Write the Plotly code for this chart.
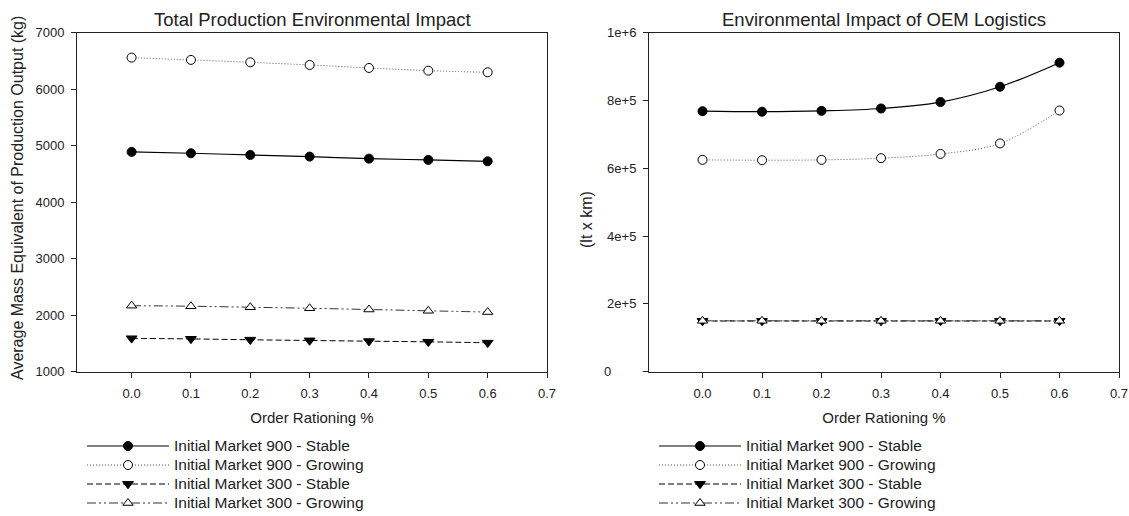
import plotly.graph_objects as go

# ---------------- data ----------------
order_rationing = [0.0, 0.1, 0.2, 0.3, 0.4, 0.5, 0.6]

series_names = [
    "Initial Market 900 - Stable",
    "Initial Market 900 - Growing",
    "Initial Market 300 - Stable",
    "Initial Market 300 - Growing",
]

# Left panel: Total Production Environmental Impact (kg)
prod_900_stable = [4888, 4864, 4834, 4805, 4769, 4746, 4722]
prod_900_growing = [6556, 6515, 6473, 6426, 6373, 6325, 6296]
prod_300_stable = [1590, 1580, 1565, 1552, 1540, 1528, 1512]
prod_300_growing = [2168, 2158, 2140, 2122, 2100, 2077, 2055]

# Right panel: Environmental Impact of OEM Logistics (lt x km)
log_900_stable = [768000, 766500, 769000, 776000, 795000, 840000, 911000]
log_900_growing = [624500, 623500, 624500, 629500, 642000, 673000, 770000]
log_300_stable = [149500, 149500, 149500, 149500, 149500, 149500, 149500]
log_300_growing = [150000, 150000, 150000, 150000, 150000, 150000, 150000]

x_ticks = [0.0, 0.1, 0.2, 0.3, 0.4, 0.5, 0.6, 0.7]
left_y_ticks = [1000, 2000, 3000, 4000, 5000, 6000, 7000]
right_y_ticks = [0, 200000, 400000, 600000, 800000, 1000000]
right_y_ticktext = ["0\u00a0\u00a0\u00a0\u00a0\u00a0\u00a0\u00a0", "2e+5", "4e+5", "6e+5", "8e+5", "1e+6"]

# ---------------- styles ----------------
FONT = "Liberation Sans, Arial, sans-serif"
TXT = "#222222"
styles = [
    dict(line=dict(color="black", width=1.2, dash="solid"),
         marker=dict(symbol="circle", size=9, color="black", line=dict(color="black", width=1))),
    dict(line=dict(color="#555555", width=1, dash="1px,2px"),
         marker=dict(symbol="circle", size=9, color="white", line=dict(color="black", width=1))),
    dict(line=dict(color="black", width=1, dash="6px,3px"),
         marker=dict(symbol="triangle-down", size=9.5, color="black", line=dict(color="black", width=1))),
    dict(line=dict(color="#333333", width=1, dash="9px,3px,2px,3px,2px,3px"),
         marker=dict(symbol="triangle-up", size=9, color="white", line=dict(color="black", width=1))),
]

left_data = [prod_900_stable, prod_900_growing, prod_300_stable, prod_300_growing]
right_data = [log_900_stable, log_900_growing, log_300_stable, log_300_growing]

def legend_label(name):
    # legend rows are spaced by the legend font; the label itself is drawn larger
    return '<span style="font-size:15.5px">' + name + "</span>"

fig = go.Figure()
for name, ys, st in zip(series_names, left_data, styles):
    fig.add_trace(go.Scatter(
        x=order_rationing, y=ys, name=legend_label(name), mode="lines+markers",
        line=dict(shape="spline", **st["line"]), marker=st["marker"],
        xaxis="x", yaxis="y", legend="legend",
    ))
for name, ys, st in zip(series_names, right_data, styles):
    fig.add_trace(go.Scatter(
        x=order_rationing, y=ys, name=legend_label(name), mode="lines+markers",
        line=dict(shape="spline", **st["line"]), marker=st["marker"],
        xaxis="x2", yaxis="y2", legend="legend2",
    ))

W, H = 1129, 516
def px_x(p):
    return p / W
def px_y(p):
    return 1 - p / H

axis_common = dict(
    showgrid=False, zeroline=False, showline=True, linecolor="#222222", linewidth=1,
    mirror=True, ticks="outside", ticklen=5, tickwidth=1, tickcolor="#222222",
    tickfont=dict(family=FONT, size=13, color=TXT), automargin=False,
)

y_dom = [px_y(371.7), px_y(32.5)]
xtitle = dict(text="Order Rationing %", font=dict(family=FONT, size=15, color=TXT), standoff=12)
legend_common = dict(xanchor="left", yanchor="top", font=dict(family=FONT, size=12, color=TXT),
                     bgcolor="rgba(0,0,0,0)", itemwidth=82, tracegroupgap=0, itemclick=False)

fig.update_layout(
    width=W, height=H,
    margin=dict(l=0, r=0, t=0, b=0, autoexpand=False),
    paper_bgcolor="white", plot_bgcolor="white",
    font=dict(family=FONT, size=13, color=TXT),
    hovermode=False,
    xaxis=dict(domain=[px_x(77), px_x(547)], range=[-0.092, 0.7], tickvals=x_ticks,
               tickformat=".1f", anchor="y", ticklabelstandoff=5, title=xtitle, **axis_common),
    yaxis=dict(domain=y_dom, range=[1000, 7000], tickvals=left_y_ticks, anchor="x",
               ticklabelstandoff=4, **axis_common),
    xaxis2=dict(domain=[px_x(649), px_x(1119)], range=[-0.09, 0.7], tickvals=x_ticks,
                tickformat=".1f", anchor="y2", ticklabelstandoff=5, title=xtitle, **axis_common),
    yaxis2=dict(domain=y_dom, range=[0, 1000000], tickvals=right_y_ticks,
                ticktext=right_y_ticktext, anchor="x2", ticklabelstandoff=4, **axis_common),
    legend=dict(x=px_x(82), y=px_y(431.5), **legend_common),
    legend2=dict(x=px_x(654), y=px_y(431.5), **legend_common),
    showlegend=True,
    annotations=[
        dict(text="Total Production Environmental Impact", x=px_x(312), y=px_y(20),
             xref="paper", yref="paper", showarrow=False, xanchor="center", yanchor="middle",
             font=dict(family=FONT, size=18.5, color=TXT)),
        dict(text="Environmental Impact of OEM Logistics", x=px_x(884), y=px_y(20),
             xref="paper", yref="paper", showarrow=False, xanchor="center", yanchor="middle",
             font=dict(family=FONT, size=18.5, color=TXT)),
        dict(text="Average Mass Equivalent of Production Output (kg)", x=px_x(17), y=px_y(198),
             xref="paper", yref="paper", showarrow=False, xanchor="center", yanchor="middle",
             textangle=-90, font=dict(family=FONT, size=16, color=TXT)),
        dict(text="(lt x km)", x=px_x(586), y=px_y(220),
             xref="paper", yref="paper", showarrow=False, xanchor="center", yanchor="middle",
             textangle=-90, font=dict(family=FONT, size=16, color=TXT)),
    ],
)

fig.write_html(
    "out.html",
    config={"displayModeBar": False, "staticPlot": True},
    post_script="document.body.style.margin='0px';document.body.style.overflow='hidden';",
)
